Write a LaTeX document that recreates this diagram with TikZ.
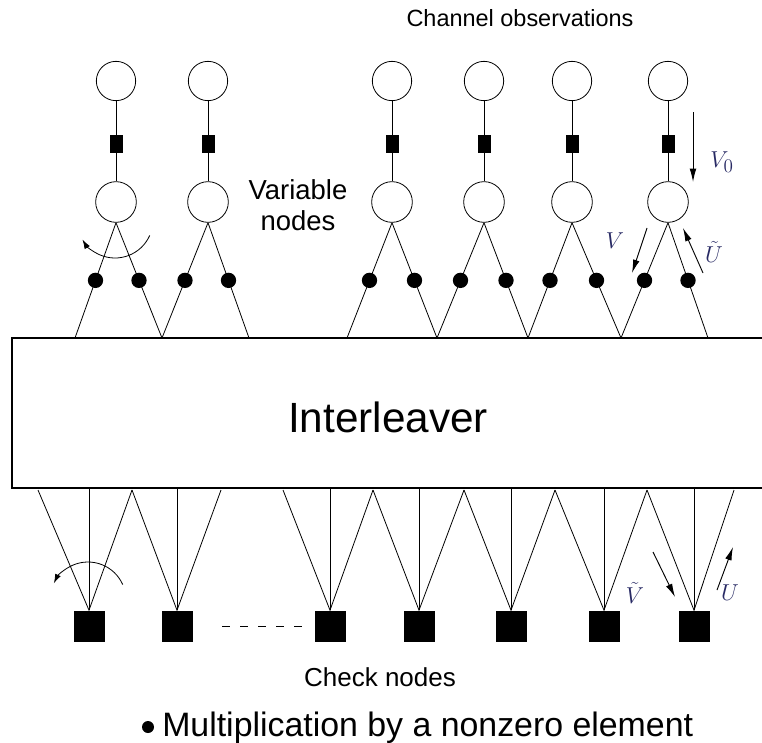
\documentclass[tikz,border=0pt]{standalone}
\usepackage{fontspec}
\setmainfont{Liberation Sans}
\usetikzlibrary{arrows.meta}
\definecolor{lblblue}{RGB}{40,42,100}

\begin{document}
\begin{tikzpicture}[x=0.75pt,y=-0.75pt,
  obs/.style={circle,draw,line width=0.6pt,minimum size=29.5pt,inner sep=0pt},
  varnode/.style={circle,draw,line width=0.6pt,minimum size=30.5pt,inner sep=0pt},
  chan/.style={rectangle,fill=black,minimum width=9.75pt,minimum height=13.5pt,inner sep=0pt},
  chk/.style={rectangle,fill=black,minimum size=23.25pt,inner sep=0pt},
  mult/.style={circle,fill=black,minimum size=11.5pt,inner sep=0pt},
  edge/.style={line width=0.6pt},
  msg/.style={-{Latex[length=10pt,width=5pt]},line width=0.7pt},
  rot/.style={-{Latex[length=7pt,width=4.5pt]},line width=0.6pt},
  lbl/.style={text=lblblue,font=\fontsize{19}{19}\selectfont},
]
\useasboundingbox (0,0) rectangle (762,742);

% interleaver block, open to the right
\draw[line width=1pt] (764,338) -- (12,338) -- (12,488) -- (764,488);
\node[anchor=base,font=\fontsize{31.7}{34}\selectfont] (il) at (388,432) {Interleaver};

% variable nodes with their channel observations
\foreach \i/\x/\a/\b in {1/116/75/162, 2/208/162/249, 3/392/347/437,
                         4/484/437/528, 5/572/528/621, 6/668/621/708} {
  \node[obs] (o\i) at (\x,81) {};
  \node[chan] (c\i) at (\x,144) {};
  \node[varnode] (v\i) at (\x,202) {};
  \draw[edge] (o\i) -- (c\i) -- (v\i);
  \coordinate (vl\i) at (\a,338);
  \coordinate (vr\i) at (\b,338);
  \draw[edge] (v\i.south) -- node[mult] (ml\i) {} (vl\i);
  \draw[edge] (v\i.south) -- node[mult] (mr\i) {} (vr\i);
}

% check nodes
\foreach \i/\x/\a/\b in {1/89/38/132, 2/177/132/221, 3/330/283/373, 4/419/373/464,
                         5/511/464/555, 6/604/555/647, 7/694/647/734} {
  \node[chk] (k\i) at (\x,626) {};
  \coordinate (ka\i) at (\a,490);
  \coordinate (kb\i) at (\b,490);
  \coordinate (kv\i) at (\x,488);
  \draw[edge] (ka\i) -- (k\i.north) -- (kb\i);
  \draw[edge] (k\i.north) -- (kv\i);
}
\draw[edge,dash pattern=on 6pt off 7.5pt] ([xshift=22pt]k2.east) -- ([xshift=-8.6pt]k3.west);

% permutation arrows
\draw[rot] (115,220) ++(24:38) arc[start angle=24,end angle=149,radius=38];
\draw[rot] (88,600) ++(-24:38) arc[start angle=-24,end angle=-154,radius=38];

% message arrows
\coordinate (v0a) at (693,112); \coordinate (v0b) at (693,182);
\coordinate (va) at (647,228);  \coordinate (vb) at (632,273);
\coordinate (uta) at (703,273); \coordinate (utb) at (683,228);
\coordinate (vta) at (653,552); \coordinate (vtb) at (675,597);
\coordinate (ua) at (717,590);  \coordinate (ub) at (733,547);
\draw[msg] (v0a) -- (v0b);
\draw[msg] (va) -- (vb);
\draw[msg] (uta) -- (utb);
\draw[msg] (vta) -- (vtb);
\draw[msg] (ua) -- (ub);
\node[lbl] (lv0) at (722,162) {$V_0$};
\node[lbl] (lv) at (615,241) {$V$};
\node[lbl] (lut) at (714,252) {$\tilde U$};
\node[lbl] (lvt) at (635,593) {$\tilde V$};
\node[lbl] (lu) at (730,593) {$U$};

% captions
\node[anchor=base,font=\fontsize{17.6}{20}\selectfont] (cobs) at (520,27) {Channel observations};
\node[anchor=base,font=\fontsize{20.6}{23}\selectfont] (vn1) at (298,199) {Variable};
\node[anchor=base,font=\fontsize{20.6}{23}\selectfont] (vn2) at (298,230) {nodes};
\node[anchor=base,font=\fontsize{19.5}{22}\selectfont] (cn) at (380,686) {Check nodes};
\node[circle,fill=black,minimum size=9pt,inner sep=0pt] (bul) at (148,727) {};
\node[anchor=base west,inner sep=0pt,font=\fontsize{25.4}{28}\selectfont] (leg) at (162,736) {Multiplication by a nonzero element};
\end{tikzpicture}
\end{document}
